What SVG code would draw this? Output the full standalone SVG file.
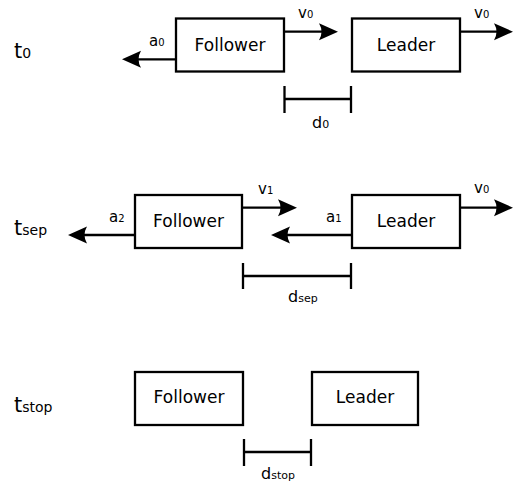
<svg xmlns="http://www.w3.org/2000/svg" width="516" height="483" viewBox="0 0 516 483">
<style>
text{font-family:"DejaVu Sans","Liberation Sans",sans-serif;fill:#000}
.box{fill:#fff;stroke:#000;stroke-width:2.3}
.lbl{font-size:17px;text-anchor:middle}
.q{font-size:15px}
.qs{font-size:10px}
.d{font-size:16px}
.ds{font-size:11px}
.t{font-size:21px}
.ts{font-size:14px}
.arr{fill:none;stroke:#000;stroke-width:2.3;marker-end:url(#ah)}
.br{fill:none;stroke:#000;stroke-width:2.3}
</style>
<defs>
<marker id="ah" markerUnits="userSpaceOnUse" markerWidth="20" markerHeight="18" viewBox="0 -9 20 18" refX="3" refY="0" orient="auto" overflow="visible">
<path d="M0,-8.5 L19,0 L0,8.5 Q5,0 0,-8.5 Z" fill="#000"/>
</marker>
</defs>
<rect width="516" height="483" fill="#fff"/>

<g id="time-labels">
<text x="14" y="58" class="t">t<tspan class="ts">0</tspan></text>
<text x="14" y="235" class="t">t<tspan class="ts">sep</tspan></text>
<text x="14" y="412" class="t">t<tspan class="ts">stop</tspan></text>
</g>

<g id="follower-t0"><rect class="box" x="176" y="18.5" width="108" height="53"/><text class="lbl" x="230" y="51">Follower</text></g>
<g id="leader-t0"><rect class="box" x="352" y="18.5" width="108" height="53"/><text class="lbl" x="406" y="51">Leader</text></g>
<g id="follower-tsep"><rect class="box" x="135" y="195" width="107" height="53"/><text class="lbl" x="188.5" y="227">Follower</text></g>
<g id="leader-tsep"><rect class="box" x="352" y="195" width="108" height="53"/><text class="lbl" x="406" y="227">Leader</text></g>
<g id="follower-tstop"><rect class="box" x="135" y="372" width="108" height="53"/><text class="lbl" x="189" y="403">Follower</text></g>
<g id="leader-tstop"><rect class="box" x="312" y="372" width="106" height="53"/><text class="lbl" x="365" y="403">Leader</text></g>

<g id="connectors">
<path class="arr" d="M284,31.7 H322"/>
<path class="arr" d="M460,31.7 H497"/>
<path class="arr" d="M176,59.3 H138"/>
<path class="arr" d="M242,207.7 H281"/>
<path class="arr" d="M460,207.7 H497"/>
<path class="arr" d="M135,235 H84"/>
<path class="arr" d="M351,235 H287"/>
<path class="br" d="M284.5,86 V113 M351,86 V113 M284.5,99 H351"/>
<path class="br" d="M243,263 V289 M351,263 V289 M243,276 H351"/>
<path class="br" d="M244,439 V466 M311,439 V466 M244,452 H311"/>
</g>

<g id="labels">
<text x="298" y="18" class="q">v<tspan class="qs">0</tspan></text>
<text x="474" y="18" class="q">v<tspan class="qs">0</tspan></text>
<text x="149" y="46" class="q">a<tspan class="qs">0</tspan></text>
<text x="312" y="128" class="d">d<tspan class="ds">0</tspan></text>
<text x="258" y="194" class="q">v<tspan class="qs">1</tspan></text>
<text x="474" y="193" class="q">v<tspan class="qs">0</tspan></text>
<text x="109" y="222" class="q">a<tspan class="qs">2</tspan></text>
<text x="326" y="222" class="q">a<tspan class="qs">1</tspan></text>
<text x="288" y="302" class="d">d<tspan class="ds">sep</tspan></text>
<text x="261" y="479" class="d">d<tspan class="ds">stop</tspan></text>
</g>
</svg>
